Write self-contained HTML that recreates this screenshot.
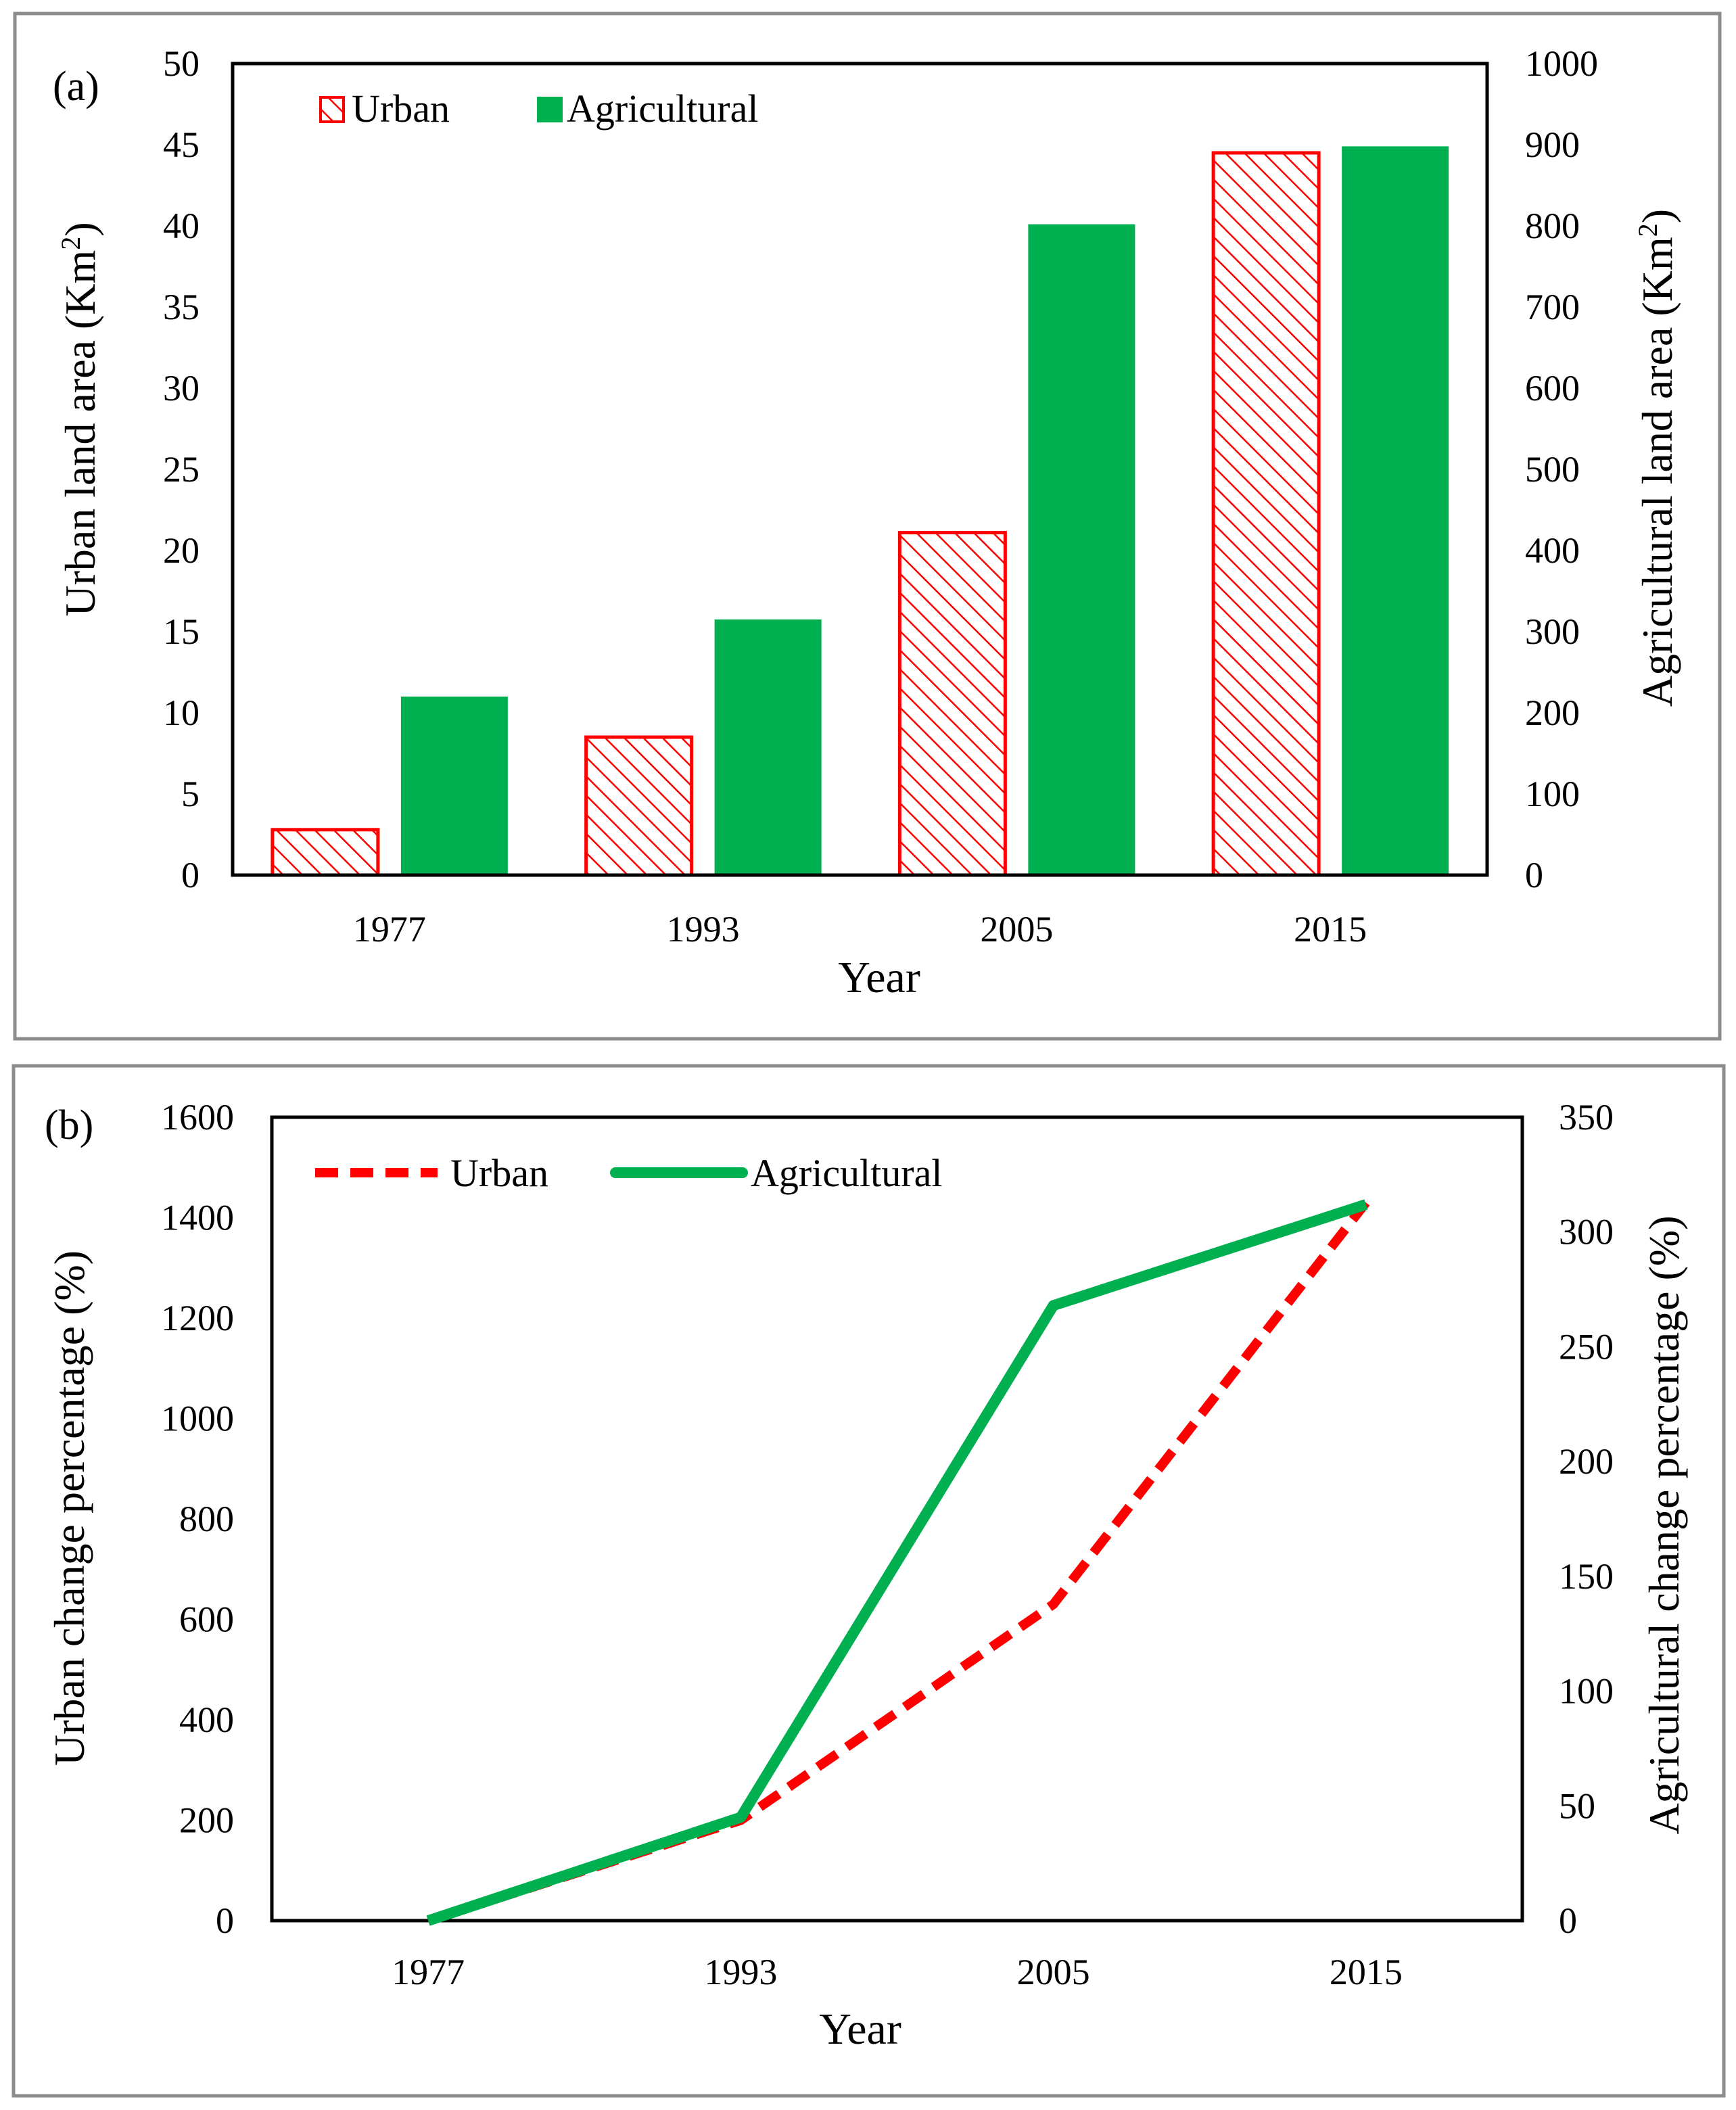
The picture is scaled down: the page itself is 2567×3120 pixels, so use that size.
<!DOCTYPE html>
<html><head><meta charset="utf-8">
<style>
html,body{margin:0;padding:0;background:#fff;}
svg, svg text{font-family:"Liberation Serif","DejaVu Serif",serif;}
</style></head>
<body>
<svg id="fig" width="2567" height="3115" viewBox="0 0 2567 3115" xmlns="http://www.w3.org/2000/svg" font-family="Liberation Serif, serif">
<defs>
<pattern id="hatch" patternUnits="userSpaceOnUse" width="20" height="20" patternTransform="rotate(-45)">
<rect width="20" height="20" fill="#fff"/>
<line x1="0" y1="0" x2="0" y2="20" stroke="#f00" stroke-width="5"/>
</pattern>
</defs>
<rect x="22" y="20" width="2521" height="1516" fill="#fff" stroke="#8c8c8c" stroke-width="5"/>
<rect x="20" y="1576" width="2529" height="1523" fill="#fff" stroke="#8c8c8c" stroke-width="5"/>
<g id="ga" font-family="Liberation Serif, serif"></g>
<g id="gb" font-family="Liberation Serif, serif"></g>
</svg>
<script>
const years = ["1977","1993","2005","2015"];
const urbanArea = [2.8, 8.5, 21.1, 44.5];
const agriArea = [220, 315, 802, 898];
const leftTicksA = [0,5,10,15,20,25,30,35,40,45,50];
const rightTicksA = [0,100,200,300,400,500,600,700,800,900,1000];
const urbanChange = [0, 200, 630, 1430];
const agriChange = [0, 45, 268, 312];
const leftTicksB = [0,200,400,600,800,1000,1200,1400,1600];
const rightTicksB = [0,50,100,150,200,250,300,350];

const NS="http://www.w3.org/2000/svg";
function mk(parent,tag,attrs,text){const e=document.createElementNS(NS,tag);for(const k in attrs)e.setAttribute(k,attrs[k]);if(tag==='text')e.setAttribute('font-family','Liberation Serif, serif');if(text!==undefined)e.textContent=text;parent.appendChild(e);return e;}

// Panel A
(function(){
const g=document.getElementById('ga');
const L=344,R=2199,T=94,B=1294;
const yl=v=>B-(v/50)*(B-T);
const yr=v=>B-(v/1000)*(B-T);
const bw=(R-L)/years.length;
const xc=i=>L+bw*(i+0.5);
urbanArea.forEach((v,i)=>{
 const r=mk(g,'rect',{x:xc(i)-173,y:yl(v),width:156,height:B-yl(v),fill:'url(#hatch)',stroke:'#f00','stroke-width':5});
 
 
});
agriArea.forEach((v,i)=>{
 const r=mk(g,'rect',{x:xc(i)+17,y:yr(v),width:158,height:B-yr(v),fill:'#00b050'});
 
 
});
const fr=mk(g,'rect',{x:L,y:T,width:R-L,height:B-T,fill:'none',stroke:'#000','stroke-width':5});


leftTicksA.forEach(v=>{
 const t=mk(g,'text',{x:295,y:yl(v)+18,'text-anchor':'end','font-size':54},String(v));
 
 
});
rightTicksA.forEach(v=>{
 const t=mk(g,'text',{x:2255,y:yr(v)+18,'text-anchor':'start','font-size':54},String(v));
 
 
});
years.forEach((y,i)=>{
 const t=mk(g,'text',{x:xc(i),y:1392,'text-anchor':'middle','font-size':54},y);
 
 
});
let t=mk(g,'text',{x:1300,y:1467,'text-anchor':'middle','font-size':66},'Year');

t=mk(g,'text',{x:78,y:148,'font-size':62},'(a)');

t=mk(g,'text',{x:0,y:0,'text-anchor':'middle','font-size':64,transform:'translate(140,620) rotate(-90)'});
t.innerHTML='Urban land area (Km<tspan baseline-shift="super" font-size="40">2</tspan>)';

t=mk(g,'text',{x:0,y:0,'text-anchor':'middle','font-size':64,transform:'translate(2472,677) rotate(-90)'});
t.innerHTML='Agricultural land area (Km<tspan baseline-shift="super" font-size="40">2</tspan>)';

let r=mk(g,'rect',{x:474,y:144,width:34,height:36,fill:'url(#hatch)',stroke:'#f00','stroke-width':4});

t=mk(g,'text',{x:520,y:180,'font-size':58},'Urban');

r=mk(g,'rect',{x:794,y:143,width:38,height:38,fill:'#00b050'});

t=mk(g,'text',{x:838,y:180,'font-size':58},'Agricultural');

})();

// Panel B
(function(){
const g=document.getElementById('gb');
const L=402,R=2251,T=1652,B=2840;
const yl=v=>B-(v/1600)*(B-T);
const yr=v=>B-(v/350)*(B-T);
const bw=(R-L)/years.length;
const xc=i=>L+bw*(i+0.5);
const fr=mk(g,'rect',{x:L,y:T,width:R-L,height:B-T,fill:'none',stroke:'#000','stroke-width':5});


let p=mk(g,'polyline',{points:urbanChange.map((v,i)=>xc(i)+','+yl(v)).join(' '),fill:'none',stroke:'#f00','stroke-width':14,'stroke-dasharray':'34 18'});

p=mk(g,'polyline',{points:agriChange.map((v,i)=>xc(i)+','+yr(v)).join(' '),fill:'none',stroke:'#00b050','stroke-width':16,'stroke-linejoin':'round'});

leftTicksB.forEach(v=>{
 const t=mk(g,'text',{x:346,y:yl(v)+18,'text-anchor':'end','font-size':54},String(v));
 
 
});
rightTicksB.forEach(v=>{
 const t=mk(g,'text',{x:2305,y:yr(v)+18,'text-anchor':'start','font-size':54},String(v));
 
 
});
years.forEach((y,i)=>{
 const t=mk(g,'text',{x:xc(i),y:2934,'text-anchor':'middle','font-size':54},y);
 
 
});
let t=mk(g,'text',{x:1272,y:3022,'text-anchor':'middle','font-size':66},'Year');

t=mk(g,'text',{x:66,y:1684,'font-size':62},'(b)');

t=mk(g,'text',{x:0,y:0,'text-anchor':'middle','font-size':64,transform:'translate(124,2230) rotate(-90)','xml:space':'preserve'},'Urban change percentage  (%)');

t=mk(g,'text',{x:0,y:0,'text-anchor':'middle','font-size':64,transform:'translate(2482,2255) rotate(-90)','xml:space':'preserve'},'Agricultural change percentage  (%)');

let l=mk(g,'line',{x1:466,y1:1734,x2:647,y2:1734,stroke:'#f00','stroke-width':14,'stroke-dasharray':'34 18'});

t=mk(g,'text',{x:666,y:1754,'font-size':58},'Urban');

l=mk(g,'line',{x1:910,y1:1734,x2:1098,y2:1734,stroke:'#00b050','stroke-width':16,'stroke-linecap':'round'});

t=mk(g,'text',{x:1110,y:1754,'font-size':58},'Agricultural');

})();
</script>
</body></html>
